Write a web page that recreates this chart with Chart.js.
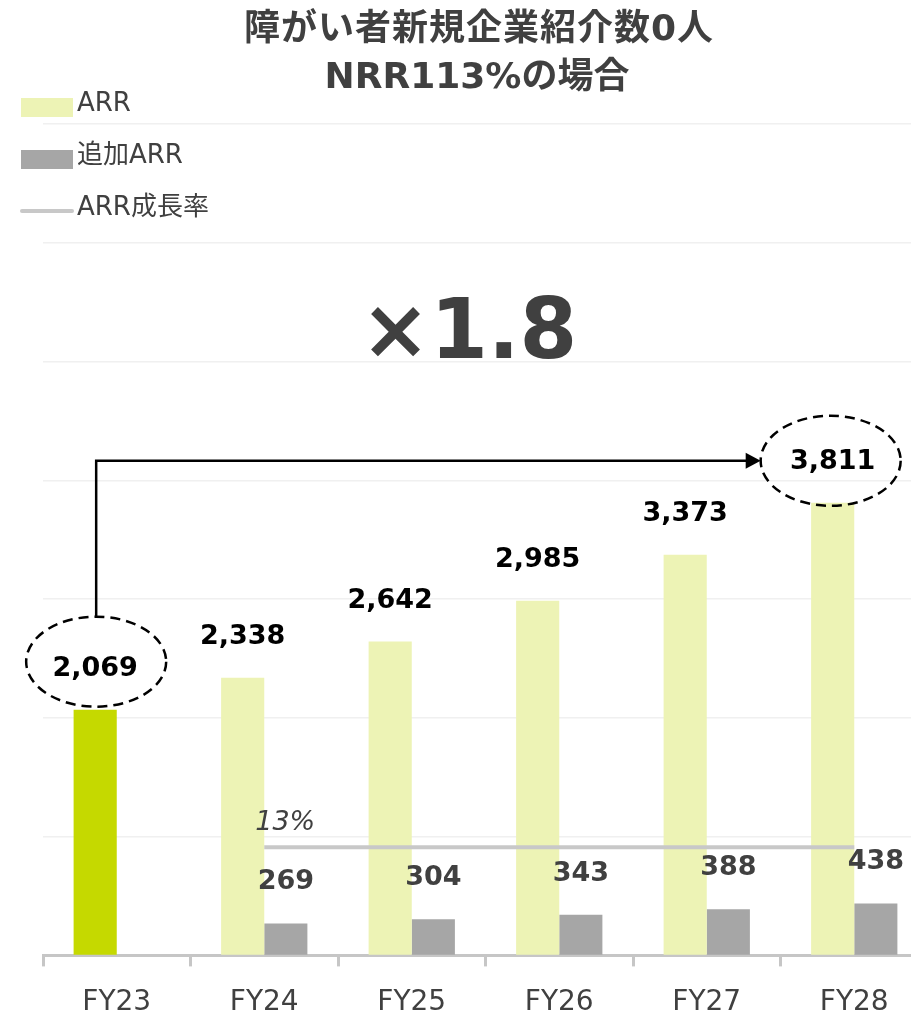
<!DOCTYPE html>
<html>
<head>
<meta charset="utf-8">
<script src="https://cdn.jsdelivr.net/npm/chart.js@4/dist/chart.umd.min.js"></script>
<style>
  html, body { margin: 0; padding: 0; background: #fff; overflow: hidden; }
  #wrap { position: relative; width: 940px; height: 1052px; }
</style>
</head>
<body>
<div id="wrap"><canvas id="chart"></canvas></div>
<script>
const categories = ['FY23', 'FY24', 'FY25', 'FY26', 'FY27', 'FY28'];
const arrValues = [2069, 2338, 2642, 2985, 3373, 3811];
const addedArrValues = [null, 269, 304, 343, 388, 438];
const growthRate = [null, 13, 13, 13, 13, 13];
const titleLines = ['障がい者新規企業紹介数0人', 'NRR113%の場合'];
const multipleText = '×1.8';

const FONT = '"DejaVu Sans", "Noto Sans CJK JP", sans-serif';
const TEXT = '#404040';
const ARR_ACTUAL = '#C5D900';
const ARR_PLAN = '#EDF3B5';
const ADDED = '#A6A6A6';
const RATE_LINE = '#C8C8C8';

const fmt = v => v.toLocaleString('en-US');

// labels, title, legend and the x1.8 callout
const annotations = {
    id: 'annotations',
    afterDatasetsDraw(chart) {
        const ctx = chart.ctx;
        ctx.save();

        // value labels above bars
        ctx.textAlign = 'center';
        ctx.textBaseline = 'middle';
        ctx.font = 'bold 27px ' + FONT;
        [[0, '#000'], [1, TEXT]].forEach(([idx, color]) => {
            const ds = chart.data.datasets[idx];
            chart.getDatasetMeta(idx).data.forEach((bar, i) => {
                if (ds.data[i] == null) return;
                ctx.fillStyle = color;
                ctx.fillText(fmt(ds.data[i]), bar.x, bar.y - 41);
            });
        });

        // growth-rate label
        const linePts = chart.getDatasetMeta(2).data;
        const firstIdx = growthRate.findIndex(v => v != null);
        const p = linePts[firstIdx];
        ctx.font = 'italic 27px ' + FONT;
        ctx.fillStyle = TEXT;
        ctx.fillText(growthRate[firstIdx] + '%', p.x + 21, p.y - 24);

        // dashed ellipses around first and last ARR
        const arrBars = chart.getDatasetMeta(0).data;
        const b0 = arrBars[0], b5 = arrBars[arrBars.length - 1];
        const e1 = { x: b0.x + 1, y: b0.y - 48, rx: 70, ry: 45 };
        const e2 = { x: b5.x - 2, y: b5.y - 42, rx: 70, ry: 45 };
        ctx.strokeStyle = '#000';
        ctx.lineWidth = 2.5;
        ctx.setLineDash([10, 6]);
        [e1, e2].forEach(e => {
            ctx.beginPath();
            ctx.ellipse(e.x, e.y, e.rx, e.ry, 0, 0, Math.PI * 2);
            ctx.stroke();
        });
        ctx.setLineDash([]);

        // elbow arrow between them
        const tipX = e2.x - e2.rx;
        ctx.beginPath();
        ctx.moveTo(e1.x, e1.y - e1.ry);
        ctx.lineTo(e1.x, e2.y);
        ctx.lineTo(tipX - 14, e2.y);
        ctx.stroke();
        ctx.fillStyle = '#000';
        ctx.beginPath();
        ctx.moveTo(tipX, e2.y);
        ctx.lineTo(tipX - 15, e2.y - 8);
        ctx.lineTo(tipX - 15, e2.y + 8);
        ctx.closePath();
        ctx.fill();

        // multiple
        ctx.font = 'bold 83px ' + FONT;
        ctx.fillStyle = TEXT;
        ctx.fillText(multipleText, 469, 336);

        // title
        ctx.font = 'bold 36px ' + FONT;
        ctx.letterSpacing = '1px';
        ctx.fillText(titleLines[0], 479, 31);
        ctx.letterSpacing = '0px';
        ctx.fillText(titleLines[1], 477, 79);

        // legend
        const items = [
            { label: 'ARR', type: 'box', color: ARR_PLAN, y: 107 },
            { label: '追加ARR', type: 'box', color: ADDED, y: 159 },
            { label: 'ARR成長率', type: 'line', color: RATE_LINE, y: 211 }
        ];
        ctx.textAlign = 'left';
        ctx.font = '26px ' + FONT;
        items.forEach(it => {
            if (it.type === 'box') {
                ctx.fillStyle = it.color;
                ctx.fillRect(21, it.y - 9, 52, 19);
            } else {
                ctx.strokeStyle = it.color;
                ctx.lineWidth = 4;
                ctx.lineCap = 'round';
                ctx.beginPath();
                ctx.moveTo(22, it.y);
                ctx.lineTo(72, it.y);
                ctx.stroke();
            }
            ctx.fillStyle = TEXT;
            ctx.fillText(it.label, 77, it.y - 3);
        });

        ctx.restore();
    }
};

new Chart(document.getElementById('chart'), {
    type: 'bar',
    data: {
        labels: categories,
        datasets: [
            {
                label: 'ARR',
                data: arrValues,
                backgroundColor: arrValues.map((v, i) => i === 0 ? ARR_ACTUAL : ARR_PLAN),
                order: 2
            },
            {
                label: '追加ARR',
                data: addedArrValues,
                backgroundColor: ADDED,
                order: 2
            },
            {
                type: 'line',
                label: 'ARR成長率',
                data: growthRate,
                yAxisID: 'y1',
                borderColor: RATE_LINE,
                borderWidth: 4,
                pointRadius: 0,
                fill: false,
                order: 1
            }
        ]
    },
    options: {
        responsive: true,
        maintainAspectRatio: false,
        animation: false,
        categoryPercentage: 0.585,
        barPercentage: 1.0,
        layout: { padding: { top: 124, left: 43, right: 12, bottom: 12 } },
        plugins: {
            legend: { display: false },
            title: { display: false },
            tooltip: { enabled: false }
        },
        scales: {
            x: {
                border: { color: '#C6C6C6', width: 3 },
                grid: {
                    drawOnChartArea: false,
                    drawTicks: true,
                    tickLength: 11,
                    color: '#C6C6C6',
                    lineWidth: 3
                },
                ticks: {
                    color: TEXT,
                    padding: 20,
                    font: { family: FONT, size: 28 }
                }
            },
            y: {
                min: 0,
                max: 7000,
                ticks: { display: false, stepSize: 1000 },
                border: { display: false },
                grid: { color: '#F0F0F0', lineWidth: 1.5, drawTicks: false }
            },
            y1: {
                display: false,
                min: 0,
                max: 100,
                grid: { drawOnChartArea: false }
            }
        }
    },
    plugins: [annotations]
});
</script>
</body>
</html>
